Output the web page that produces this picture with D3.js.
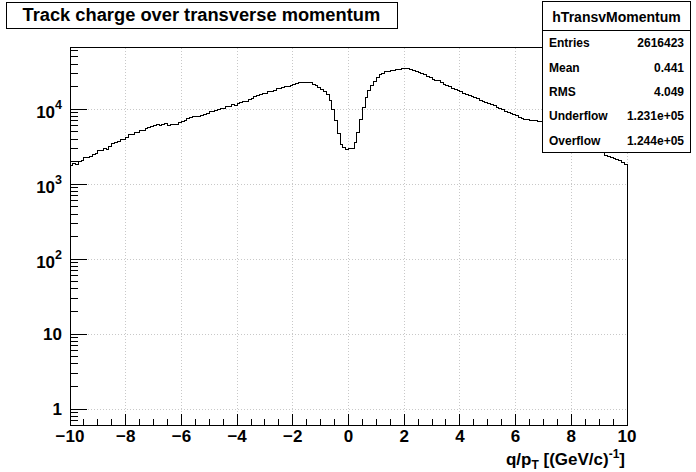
<!DOCTYPE html>
<html><head><meta charset="utf-8">
<script src="https://cdn.jsdelivr.net/npm/d3@7"></script>
<style>
body{margin:0;background:#fff}
svg{display:block}
text{font-family:"Liberation Sans",Arial,Helvetica,sans-serif;font-weight:bold;fill:#000}
</style>
</head><body>
<svg id="c" width="696" height="472"></svg>
<script>
// ---- data ----
const counts = [
1754,1905,1848,1983,2045,2242,2260,2312,2512,2530,
2780,2790,3020,2867,3172,3521,3608,3698,3896,3957,
4182,4543,4585,4831,4906,5137,5216,5580,5720,5935,
5990,6177,6160,6271,6368,6120,6250,6310,6330,6567,
6918,6982,7586,7656,7918,7967,8017,8318,8446,8655,
9290,9348,9698,9787,10186,10249,10831,10897,11410,11380,
12023,12134,12627,12705,13305,13846,14588,15041,15511,16241,
16341,17008,17271,17920,18825,18942,19409,19830,20260,20763,
21410,21943,22630,22700,22650,22580,22420,21540,20450,19530,
18480,17271,15750,13100,9940,6982,4686,3415,3076,2929,
2956,3020,3586,4875,7356,10503,14278,17920,20450,23335,
26546,28660,29830,31430,31920,33113,33200,34150,34300,34990,
35210,34674,34000,32710,31920,30950,30200,28660,27200,26380,
25119,24360,24210,22770,21090,20450,19830,19055,18365,17810,
17008,16241,15511,15041,14588,14150,13720,13183,12785,12246,
11950,11410,11066,10634,10249,9787,9348,9066,8790,8524,
8266,7774,7425,7311,7200,7135,7100,7090,6877,6772,
6668,6506,6271,6120,5808,5633,5413,5137,4981,4742,
4543,4352,4143,3969,3778,3597,3425,3281,3114,2956,
2797,2655,2384,2348,2263,2175,2141,2045,1941,1848
];
const xRange = [-10, 10];
const yRange = [0.612, 65670];
const xTicks = [-10,-8,-6,-4,-2,0,2,4,6,8,10];
const xTickLabels = ["\u221210","\u22128","\u22126","\u22124","\u22122","0","2","4","6","8","10"];
const yTicks = [1,10,100,1000,10000];
const yTickBase = ["1","10","10","10","10"];
const yTickExp = ["","","2","3","4"];
const title = "Track charge over transverse momentum";
const statTitle = "hTransvMomentum";
const statLabels = ["Entries","Mean","RMS","Underflow","Overflow"];
const statValues = ["2616423","0.441","4.049","1.231e+05","1.244e+05"];

// ---- layout ----
const svg = d3.select("#c");
const L = 69.5, R = 626.5, T = 47.5, B = 424.5;
const x = d3.scaleLinear().domain(xRange).range([L, R]);
const y = d3.scaleLog().domain(yRange).range([B, T]);
const nb = counts.length;
const bw = (xRange[1]-xRange[0])/nb;

// grid
const grid = svg.append("g").attr("stroke","#c8c8c8").attr("stroke-width",1).attr("stroke-dasharray","1,2").attr("shape-rendering","crispEdges");
xTicks.forEach(t => grid.append("line").attr("x1",Math.round(x(t))+0.5).attr("x2",Math.round(x(t))+0.5).attr("y1",T).attr("y2",B));
yTicks.forEach(t => grid.append("line").attr("y1",Math.round(y(t))+0.5).attr("y2",Math.round(y(t))+0.5).attr("x1",L).attr("x2",R));

// frame top
svg.append("line").attr("x1",L).attr("x2",R).attr("y1",T).attr("y2",T).attr("stroke","#000").attr("shape-rendering","crispEdges");

// histogram
const pts = [[x(xRange[0]), y(yRange[0])]];
counts.forEach((c,i) => {
  const x0 = xRange[0] + i*bw, x1 = x0 + bw;
  pts.push([x(x0), y(c)]); pts.push([x(x1), y(c)]);
});
pts.push([x(xRange[1]), y(yRange[0])]);
const snap = pts.map(p => [Math.round(p[0])+0.5, Math.round(p[1])+0.5]);
svg.append("path").attr("d", d3.line()(snap)).attr("fill","none").attr("stroke","#000").attr("stroke-width",1).attr("shape-rendering","crispEdges");

// x axis
const minorX = d3.range(xRange[0], xRange[1]+1e-9, 0.5).filter(v => !xTicks.includes(v));
const gx = svg.append("g").attr("transform",`translate(0,${B})`).attr("shape-rendering","crispEdges");
gx.call(d3.axisBottom(x).tickValues(minorX).tickSize(-5.5).tickFormat("").tickSizeOuter(0));
gx.call(g=>g.select(".domain").remove());
const gx2 = svg.append("g").attr("transform",`translate(0,${B})`).attr("shape-rendering","crispEdges");
gx2.call(d3.axisBottom(x).tickValues(xTicks).tickSize(-11).tickSizeOuter(0).tickFormat((d,i)=>xTickLabels[i]).tickPadding(0));
gx2.selectAll("text").attr("dy",null).attr("y",17.5).style("font-size","17px").style("font-family",'"Liberation Sans",Arial,sans-serif').style("font-weight","bold");
gx2.selectAll("path,line").attr("stroke","#000");

// y axis
const minorY = [];
for (let d = 0.1; d <= 1e5; d *= 10) for (let k = 2; k <= 9; k++) { const v = k*d; if (v > yRange[0] && v < yRange[1]) minorY.push(v); }
const gy = svg.append("g").attr("transform",`translate(${L},0)`).attr("shape-rendering","crispEdges");
gy.call(d3.axisLeft(y).tickValues(minorY).tickSize(-8.5).tickFormat("").tickSizeOuter(0));
gy.call(g=>g.select(".domain").remove());
const gy2 = svg.append("g").attr("transform",`translate(${L},0)`).attr("shape-rendering","crispEdges");
gy2.call(d3.axisLeft(y).tickValues(yTicks).tickSize(-17).tickSizeOuter(0).tickFormat(""));
gy2.selectAll("path,line").attr("stroke","#000");
yTicks.forEach((t,i) => {
  const tx = svg.append("text").attr("text-anchor","end").attr("x",62)
    .attr("y", y(t) + (yTickExp[i] ? 9 : 6)).style("font-size","17px");
  tx.append("tspan").text(yTickBase[i]);
  if (yTickExp[i]) tx.append("tspan").attr("dy",-8.6).style("font-size","12.5px").text(yTickExp[i]);
});

// x axis title
const xt = svg.append("text").attr("text-anchor","end").attr("x",625).attr("y",465).style("font-size","17px");
xt.append("tspan").text("q/p");
xt.append("tspan").attr("dy",4).style("font-size","12px").text("T");
xt.append("tspan").attr("dy",-4).text(" [(GeV/c)");
xt.append("tspan").attr("dy",-7).style("font-size","12px").text("-1");
xt.append("tspan").attr("dy",7).text("]");

// title box
svg.append("rect").attr("x",6.5).attr("y",2.5).attr("width",391).attr("height",26).attr("fill","#fff").attr("stroke","#000").attr("shape-rendering","crispEdges");
svg.append("text").attr("x",22.5).attr("y",21).style("font-size","18.3px").text(title);

// stats box
const sx0 = 542.5, sx1 = 690.5, sy0 = 1.5, sy1 = 152.5, sSep = 30.5;
svg.append("rect").attr("x",sx0).attr("y",sy0).attr("width",sx1-sx0).attr("height",sy1-sy0).attr("fill","#fff").attr("stroke","#000").attr("shape-rendering","crispEdges");
svg.append("line").attr("x1",sx0).attr("x2",sx1).attr("y1",sSep).attr("y2",sSep).attr("stroke","#000").attr("shape-rendering","crispEdges");
svg.append("text").attr("x",(sx0+sx1)/2).attr("y",21.5).attr("text-anchor","middle").style("font-size","14px").text(statTitle);
const rowH = (sy1 - sSep)/statLabels.length;
statLabels.forEach((lab,i) => {
  const yy = sSep + rowH*(i+0.5) + 4.5;
  svg.append("text").attr("x",549).attr("y",yy).style("font-size","12px").text(lab);
  svg.append("text").attr("x",684).attr("y",yy).attr("text-anchor","end").style("font-size","12px").text(statValues[i]);
});
</script>
</body></html>
